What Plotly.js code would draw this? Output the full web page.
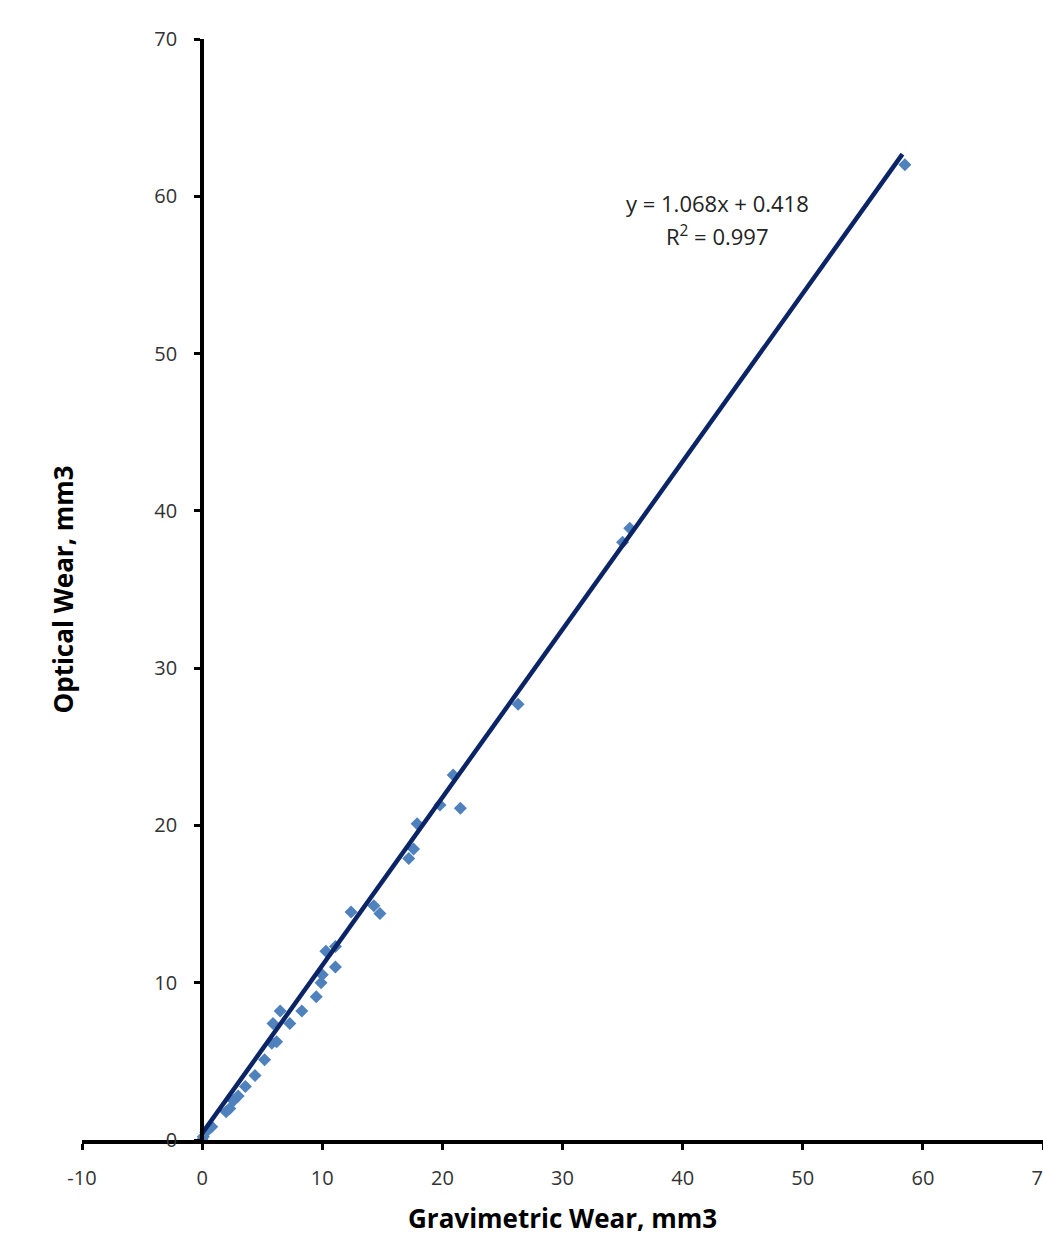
<!DOCTYPE html>
<html>
<head>
<meta charset="utf-8">
<script src="https://cdn.plot.ly/plotly-3.0.1.min.js"></script>
<style>html,body{margin:0;padding:0;background:#fff;}#chart{width:1043px;height:1236px;}</style>
</head>
<body>
<div id="chart"></div>
<script>
const gravimetric = [0, 0.1, 0.3, 0.8, 2.0, 2.3, 2.6, 3.0, 3.6, 4.4, 5.2, 5.8, 6.2, 5.9, 6.5, 7.3, 8.3, 9.5, 9.9, 10.0, 10.3, 11.1, 11.1, 12.4, 14.3, 14.8, 17.2, 17.6, 17.9, 19.8, 20.9, 21.5, 26.3, 35.0, 35.6, 58.5];
const optical     = [0, 0.2, 0.5, 0.85, 1.8, 2.0, 2.5, 2.8, 3.4, 4.1, 5.1, 6.15, 6.25, 7.4, 8.2, 7.4, 8.2, 9.1, 10.0, 10.5, 12.0, 12.3, 11.0, 14.5, 14.9, 14.4, 17.9, 18.5, 20.1, 21.3, 23.2, 21.1, 27.7, 38.0, 38.9, 62.0];
// Linear trend line (from the chart's equation)
const slope = 1.068;
const intercept = 0.418;
const trendX = [0, 58.3];
const trendY = trendX.map(x => slope * x + intercept);
// Tick labels
const xTickVals = [-10, 0, 10, 20, 30, 40, 50, 60, 70];
const xTickText = ["-10", "0", "10", "20", "30", "40", "50", "60", "70"];
const yTickVals = [0, 10, 20, 30, 40, 50, 60, 70];
const yTickText = ["0", "10", "20", "30", "40", "50", "60", "70"];
const eqLabel = "y = 1.068x + 0.418";
const r2Label = "R<sup>2</sup> = 0.997";
const xTitle = "Gravimetric Wear, mm3";
const yTitle = "Optical Wear, mm3";

const font = "Open Sans, Noto Sans, Liberation Sans, sans-serif";

const traces = [
  {
    x: gravimetric, y: optical, type: 'scatter', mode: 'markers',
    marker: {symbol: 'diamond', size: 10, color: '#4F81BD'},
    showlegend: false, hoverinfo: 'skip'
  },
  {
    x: trendX, y: trendY, type: 'scatter', mode: 'lines',
    line: {color: '#0B2466', width: 4.5},
    showlegend: false, hoverinfo: 'skip'
  }
];

const layout = {
  width: 1043, height: 1236,
  margin: {l: 82, r: 0, t: 39, b: 96},
  paper_bgcolor: '#fff', plot_bgcolor: '#fff',
  font: {family: font, size: 18, color: '#333'},
  xaxis: {
    range: [-10, 70], tickmode: 'array', tickvals: xTickVals, ticktext: xTickText,
    showgrid: false, zeroline: false,
    showline: true, linewidth: 4, linecolor: '#000',
    ticks: 'outside', ticklen: 6, tickwidth: 3, tickcolor: '#000',
    ticklabelstandoff: 11, ticklabeloverflow: 'allow',
    tickfont: {family: font, size: 20, color: '#333'}
  },
  yaxis: {
    range: [0, 70], tickmode: 'array', tickvals: yTickVals, ticktext: yTickText,
    anchor: 'free', position: 0.125,
    showgrid: false, zeroline: false,
    showline: true, linewidth: 4, linecolor: '#000',
    ticks: 'outside', ticklen: 6, tickwidth: 3, tickcolor: '#000',
    ticklabelstandoff: 13,
    tickfont: {family: font, size: 20, color: '#333'}
  },
  annotations: [
    {x: 42.9, y: 59.6, xref: 'x', yref: 'y', text: eqLabel, showarrow: false,
     font: {family: font, size: 22, color: '#222'}, xanchor: 'center', yanchor: 'middle'},
    {x: 42.9, y: 57.5, xref: 'x', yref: 'y', text: r2Label, showarrow: false,
     font: {family: font, size: 22, color: '#222'}, xanchor: 'center', yanchor: 'middle'},
    {x: 0.5, y: -(1218 - 1140) / 1101, xref: 'paper', yref: 'paper', text: '<b>' + xTitle + '</b>', showarrow: false,
     font: {family: font, size: 26, color: '#000'}, xanchor: 'center', yanchor: 'middle'},
    {x: -(82 - 62) / 961, y: 0.5, xref: 'paper', yref: 'paper', text: '<b>' + yTitle + '</b>',
     showarrow: false, textangle: -90, font: {family: font, size: 26, color: '#000'},
     xanchor: 'center', yanchor: 'middle'}
  ]
};

Plotly.newPlot('chart', traces, layout, {staticPlot: true, displayModeBar: false});
</script>
</body>
</html>
